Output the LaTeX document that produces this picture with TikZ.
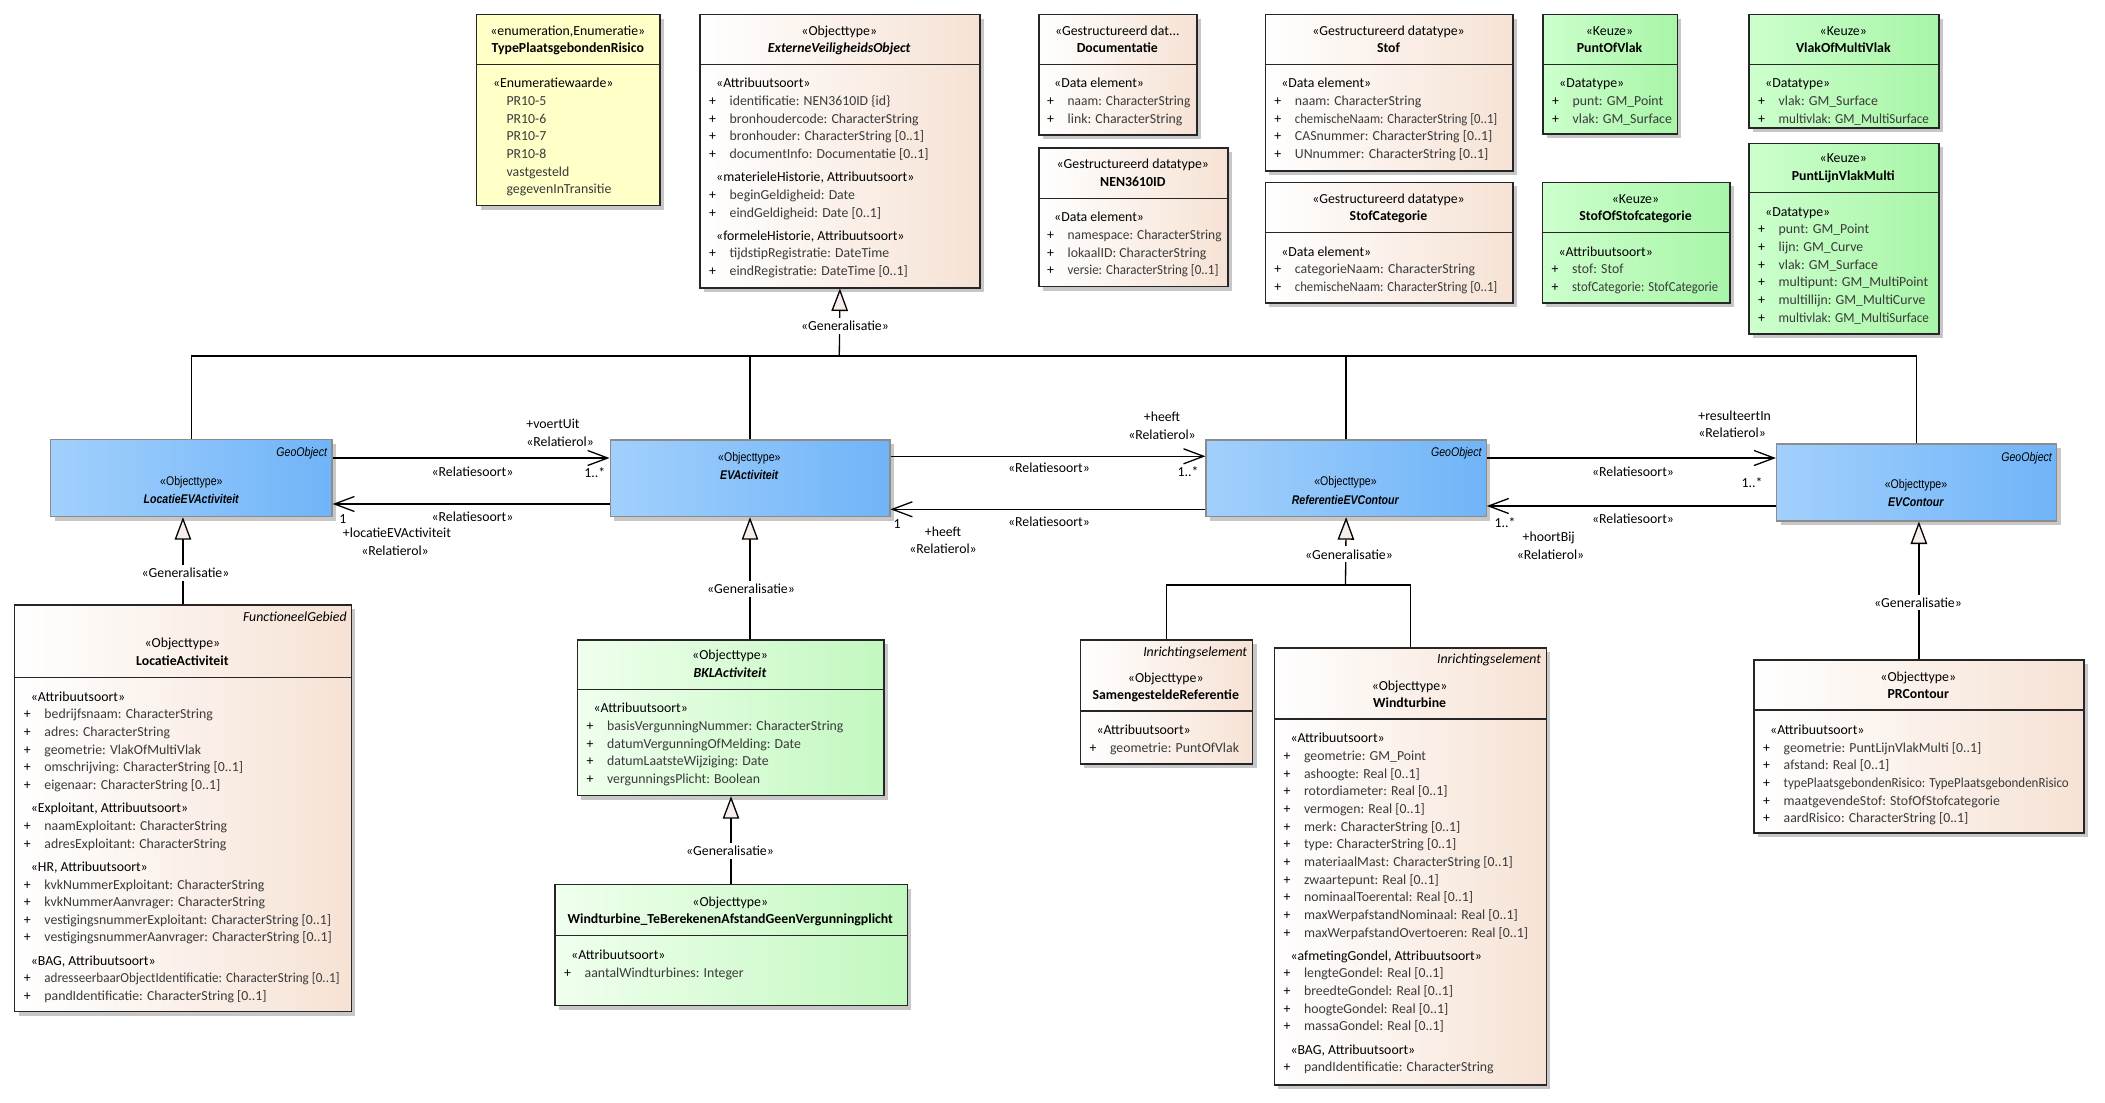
\documentclass[tikz,border=0pt]{standalone}
\usepackage{fontspec}
\setmainfont{Carlito}
\newfontfamily\narrowf[FakeStretch=0.84]{Liberation Sans}
\usetikzlibrary{arrows.meta,shadows,calc}
\definecolor{peachR}{HTML}{F6E2D4}
\definecolor{yel}{HTML}{FFFFC8}
\definecolor{kL}{HTML}{CCFFCC}
\definecolor{kR}{HTML}{A8F5A8}
\definecolor{gL}{HTML}{F0FFEE}
\definecolor{gR}{HTML}{C2F8BF}
\definecolor{bL}{HTML}{A2D0FC}
\definecolor{bR}{HTML}{70B4F8}
\definecolor{genfill}{HTML}{F7EEEB}
\definecolor{atx}{HTML}{3A3A3A}
\newcommand\af{\fontsize{6.9pt}{8.83pt}\selectfont}
\newcommand\bfnt{\narrowf\fontsize{6.3pt}{9.3pt}\selectfont}
\newcommand\gp{2.8pt}
\newcommand\uA[1]{\makebox[10.25pt][l]{+}{\color{atx}#1}}
\newcommand\uQ[2]{\makebox[10.25pt][l]{+}{\color{atx}\scalebox{#1}[1]{#2}}}
\newcommand\uE[1]{\makebox[10.25pt][l]{}{\color{atx}#1}}
\newcommand\uS[1]{\hspace*{3.5pt}#1}
\newcommand\BD[1]{\begin{tabular}[t]{@{}l@{}}#1\end{tabular}}
\newcommand\HD[2]{\begin{tabular}[t]{@{}c@{}}#1\\#2\end{tabular}}
\newcount\tc
\newcommand\T[3]{\global\advance\tc by 1 \node[#1] (n\the\tc) at (#2) {#3};}
\newcommand\ubox[7]{%
  \node[ubase,#7,anchor=north west,minimum width={(#4-#2)*0.5pt},minimum height={(#5-#3)*0.5pt}] (#1) at (#2,#3) {};
  \ifx&#6&\else\draw[divl] (#1.west |- 0,#6) -- (#1.east |- 0,#6);\fi}
\begin{document}
\begin{tikzpicture}[x=0.5pt,y=-0.5pt,
  ubase/.style={draw=black!85,line width=0.6pt,inner sep=0pt,
    drop shadow={shadow xshift=2pt,shadow yshift=-2pt,fill=black!22,opacity=1}},
  divl/.style={draw=black!85,line width=0.6pt},
  peach/.style={left color=white,right color=peachR},
  yellowbox/.style={fill=yel},
  keuze/.style={left color=kL,right color=kR},
  lgreen/.style={left color=gL,right color=gR},
  bluebox/.style={left color=bL,right color=bR,draw=black!45},
  hdr/.style={anchor=base,inner sep=0pt,font=\af},
  attr/.style={anchor=base west,inner sep=0pt,font=\af},
  ital/.style={anchor=base east,inner sep=0pt,font=\af\itshape},
  geo/.style={anchor=base east,inner sep=0pt,font=\bfnt\itshape},
  bhd/.style={anchor=base,inner sep=0pt,font=\bfnt},
  cl/.style={anchor=base,inner sep=0pt,font=\af},
  clw/.style={anchor=base west,inner sep=0pt,font=\af},
  gl/.style={anchor=base,inner sep=1.5pt,fill=white,font=\af},
  ln/.style={line width=0.65pt},
  asc/.style={line width=0.65pt,-{Straight Barb[length=10pt,width=7.5pt]}},
  gen/.style={line width=0.65pt,-{Triangle[length=11.25pt,width=8.25pt,fill=genfill]}}
]
\fill[white] (0,0) rectangle (2105,1103);
\useasboundingbox (0,0) rectangle (2105,1103);

% ---------- boxes ----------
\ubox{enum}{476.2}{14}{659.4}{205}{64.3}{yellowbox}
\ubox{extvo}{699.3}{14}{979.3}{287.3}{64.3}{peach}
\ubox{doc}{1038.3}{14}{1196.3}{134.3}{64.3}{peach}
\ubox{nen}{1038.3}{147.3}{1227.3}{286}{198.7}{peach}
\ubox{stof}{1264.5}{14}{1512.4}{170.3}{64.3}{peach}
\ubox{stofcat}{1264.5}{181.7}{1512.4}{302.3}{232.3}{peach}
\ubox{pov}{1542.3}{14}{1676.7}{133.3}{64.3}{keuze}
\ubox{vomv}{1748.3}{14}{1938.3}{127.3}{64.3}{keuze}
\ubox{sosc}{1541.7}{181.7}{1729.3}{302.3}{232.3}{keuze}
\ubox{plvm}{1748.3}{142.7}{1938.3}{333.3}{192.3}{keuze}
\ubox{locev}{50.2}{439}{331.4}{516}{}{bluebox}
\ubox{evact}{609.5}{439.3}{889.3}{516}{}{bluebox}
\ubox{refev}{1205.4}{439.3}{1485.6}{516}{}{bluebox}
\ubox{evc}{1775.9}{443.3}{2056}{520.3}{}{bluebox}
\ubox{locact}{14}{604.3}{350.7}{1011}{677.3}{peach}
\ubox{bkl}{576.7}{639.3}{883.3}{795}{689.3}{lgreen}
\ubox{wtte}{554.3}{884}{906.5}{1005}{935.3}{lgreen}
\ubox{samen}{1079.6}{639.3}{1252}{763.3}{711}{peach}
\ubox{wt}{1273.6}{647.3}{1545.7}{1084.3}{719}{peach}
\ubox{prc}{1753.3}{659.3}{2083.3}{832.3}{710}{peach}

% ---------- box texts ----------
\T{hdr}{567.8,35.2}{\HD{«enumeration,Enumeratie»}{\textbf{TypePlaatsgebondenRisico}}}
\T{attr}{485.7,87.8}{\BD{\uS{«Enumeratiewaarde»}\\\uE{PR10-5}\\\uE{PR10-6}\\\uE{PR10-7}\\\uE{PR10-8}\\\uE{vastgesteld}\\\uE{gegevenInTransitie}}}

\T{hdr}{839.3,35.2}{\HD{«Objecttype»}{\textbf{\textit{ExterneVeiligheidsObject}}}}
\T{attr}{708.8,87.8}{\BD{\uS{«Attribuutsoort»}\\\uA{identificatie: NEN3610ID \{id\}}\\\uA{bronhoudercode: CharacterString}\\\uA{bronhouder: CharacterString [0..1]}\\\uA{documentInfo: Documentatie [0..1]}\\[\gp]\uS{«materieleHistorie, Attribuutsoort»}\\\uA{beginGeldigheid: Date}\\\uA{eindGeldigheid: Date [0..1]}\\[\gp]\uS{«formeleHistorie, Attribuutsoort»}\\\uA{tijdstipRegistratie: DateTime}\\\uA{eindRegistratie: DateTime [0..1]}}}

\T{hdr}{1117.3,35.2}{\HD{«Gestructureerd dat...}{\textbf{Documentatie}}}
\T{attr}{1046.8,87.8}{\BD{\uS{«Data element»}\\\uQ{0.97}{naam: CharacterString}\\\uA{link: CharacterString}}}

\T{hdr}{1132.8,168.5}{\HD{«Gestructureerd datatype»}{\textbf{NEN3610ID}}}
\T{attr}{1046.8,221.8}{\BD{\uS{«Data element»}\\\uQ{0.97}{namespace: CharacterString}\\\uA{lokaalID: CharacterString}\\\uQ{0.94}{versie: CharacterString [0..1]}}}

\T{hdr}{1388.5,35.2}{\HD{«Gestructureerd datatype»}{\textbf{Stof}}}
\T{attr}{1274,87.8}{\BD{\uS{«Data element»}\\\uA{naam: CharacterString}\\\uQ{0.92}{chemischeNaam: CharacterString [0..1]}\\\uA{CASnummer: CharacterString [0..1]}\\\uA{UNnummer: CharacterString [0..1]}}}

\T{hdr}{1388.5,203.2}{\HD{«Gestructureerd datatype»}{\textbf{StofCategorie}}}
\T{attr}{1274,256.2}{\BD{\uS{«Data element»}\\\uA{categorieNaam: CharacterString}\\\uQ{0.92}{chemischeNaam: CharacterString [0..1]}}}

\T{hdr}{1609.5,35.2}{\HD{«Keuze»}{\textbf{PuntOfVlak}}}
\T{attr}{1551.8,87.8}{\BD{\uS{«Datatype»}\\\uA{punt: GM\_Point}\\\uA{vlak: GM\_Surface}}}

\T{hdr}{1843.3,35.2}{\HD{«Keuze»}{\textbf{VlakOfMultiVlak}}}
\T{attr}{1757.8,87.8}{\BD{\uS{«Datatype»}\\\uA{vlak: GM\_Surface}\\\uQ{0.95}{multivlak: GM\_MultiSurface}}}

\T{hdr}{1635.5,203.2}{\HD{«Keuze»}{\textbf{StofOfStofcategorie}}}
\T{attr}{1551.2,256.2}{\BD{\uS{«Attribuutsoort»}\\\uA{stof: Stof}\\\uQ{0.92}{stofCategorie: StofCategorie}}}

\T{hdr}{1843.3,162.8}{\HD{«Keuze»}{\textbf{PuntLijnVlakMulti}}}
\T{attr}{1757.8,216.2}{\BD{\uS{«Datatype»}\\\uA{punt: GM\_Point}\\\uA{lijn: GM\_Curve}\\\uA{vlak: GM\_Surface}\\\uA{multipunt: GM\_MultiPoint}\\\uA{multillijn: GM\_MultiCurve}\\\uQ{0.95}{multivlak: GM\_MultiSurface}}}

\T{geo}{327.4,456.7}{GeoObject}
\T{bhd}{191.4,485}{\HD{«Objecttype»}{\textbf{\textit{LocatieEVActiviteit}}}}
\T{bhd}{749.4,461.3}{\HD{«Objecttype»}{\textbf{\textit{EVActiviteit}}}}
\T{geo}{1482,456.7}{GeoObject}
\T{bhd}{1345.5,485.7}{\HD{«Objecttype»}{\textbf{\textit{ReferentieEVContour}}}}
\T{geo}{2052.3,461.3}{GeoObject}
\T{bhd}{1916,488.3}{\HD{«Objecttype»}{\textbf{\textit{EVContour}}}}

\T{ital}{347,621.8}{FunctioneelGebied}
\T{hdr}{182.4,647.8}{\HD{«Objecttype»}{\textbf{LocatieActiviteit}}}
\T{attr}{23.5,701.2}{\BD{\uS{«Attribuutsoort»}\\\uA{bedrijfsnaam: CharacterString}\\\uA{adres: CharacterString}\\\uA{geometrie: VlakOfMultiVlak}\\\uA{omschrijving: CharacterString [0..1]}\\\uA{eigenaar: CharacterString [0..1]}\\[\gp]\uS{«Exploitant, Attribuutsoort»}\\\uA{naamExploitant: CharacterString}\\\uA{adresExploitant: CharacterString}\\[\gp]\uS{«HR, Attribuutsoort»}\\\uA{kvkNummerExploitant: CharacterString}\\\uA{kvkNummerAanvrager: CharacterString}\\\uA{vestigingsnummerExploitant: CharacterString [0..1]}\\\uA{vestigingsnummerAanvrager: CharacterString [0..1]}\\[\gp]\uS{«BAG, Attribuutsoort»}\\\uQ{0.95}{adresseerbaarObjectIdentificatie: CharacterString [0..1]}\\\uA{pandIdentificatie: CharacterString [0..1]}}}

\T{hdr}{730,659.5}{\HD{«Objecttype»}{\textbf{\textit{BKLActiviteit}}}}
\T{attr}{586.2,712.8}{\BD{\uS{«Attribuutsoort»}\\\uA{basisVergunningNummer: CharacterString}\\\uA{datumVergunningOfMelding: Date}\\\uA{datumLaatsteWijziging: Date}\\\uA{vergunningsPlicht: Boolean}}}

\T{hdr}{730.3,906.2}{\HD{«Objecttype»}{\textbf{Windturbine\_TeBerekenenAfstandGeenVergunningplicht}}}
\T{attr}{563.8,959.5}{\BD{\uS{«Attribuutsoort»}\\\uA{aantalWindturbines: Integer}}}

\T{ital}{1247.5,656.2}{Inrichtingselement}
\T{hdr}{1165.8,682.2}{\HD{«Objecttype»}{\textbf{SamengesteldeReferentie}}}
\T{attr}{1089.1,734.5}{\BD{\uS{«Attribuutsoort»}\\\uA{geometrie: PuntOfVlak}}}

\T{ital}{1541.4,663.8}{Inrichtingselement}
\T{hdr}{1409.6,690.2}{\HD{«Objecttype»}{\textbf{Windturbine}}}
\T{attr}{1283.1,742.8}{\BD{\uS{«Attribuutsoort»}\\\uA{geometrie: GM\_Point}\\\uA{ashoogte: Real [0..1]}\\\uA{rotordiameter: Real [0..1]}\\\uA{vermogen: Real [0..1]}\\\uA{merk: CharacterString [0..1]}\\\uA{type: CharacterString [0..1]}\\\uA{materiaalMast: CharacterString [0..1]}\\\uA{zwaartepunt: Real [0..1]}\\\uA{nominaalToerental: Real [0..1]}\\\uA{maxWerpafstandNominaal: Real [0..1]}\\\uA{maxWerpafstandOvertoeren: Real [0..1]}\\[\gp]\uS{«afmetingGondel, Attribuutsoort»}\\\uA{lengteGondel: Real [0..1]}\\\uA{breedteGondel: Real [0..1]}\\\uA{hoogteGondel: Real [0..1]}\\\uA{massaGondel: Real [0..1]}\\[\gp]\uS{«BAG, Attribuutsoort»}\\\uA{pandIdentificatie: CharacterString}}}

\T{hdr}{1918.3,681.2}{\HD{«Objecttype»}{\textbf{PRContour}}}
\T{attr}{1762.8,734.5}{\BD{\uS{«Attribuutsoort»}\\\uA{geometrie: PuntLijnVlakMulti [0..1]}\\\uA{afstand: Real [0..1]}\\\uQ{0.94}{typePlaatsgebondenRisico: TypePlaatsgebondenRisico}\\\uA{maatgevendeStof: StofOfStofcategorie}\\\uA{aardRisico: CharacterString [0..1]}}}

% ---------- generalisation connectors ----------
\coordinate (bus) at (839.3,356);
\coordinate (jref) at (1345.5,585);
\draw[ln] (locev.north) |- (bus);
\draw[ln] (evact.north) |- (bus);
\draw[ln] (refev.north) |- (bus);
\draw[ln] (evc.north) |- (bus);
\draw[gen] (bus) -- (extvo.south);
\draw[gen] (locact.north) -- (locact.north |- locev.south);
\draw[gen] (evact.south |- bkl.north) -- (evact.south);
\draw[gen] (wtte.north) -- (wtte.north |- bkl.south);
\draw[ln] (samen.north) |- (jref);
\draw[ln] (wt.north) |- (jref);
\draw[gen] (jref) -- (refev.south);
\draw[gen] (prc.north) -- (prc.north |- evc.south);

\T{gl}{845,330.5}{«Generalisatie»}
\T{gl}{185.5,577.5}{«Generalisatie»}
\T{gl}{751,593.5}{«Generalisatie»}
\T{gl}{730,855.5}{«Generalisatie»}
\T{gl}{1349,559}{«Generalisatie»}
\T{gl}{1918,607.2}{«Generalisatie»}

% ---------- associations ----------
\draw[asc] (locev.east |- 0,458) -- (evact.west |- 0,458);
\draw[asc] (evact.west |- 0,504) -- (locev.east |- 0,504);
\draw[asc] (evact.east |- 0,456.3) -- (refev.west |- 0,456.3);
\draw[asc] (refev.west |- 0,509.3) -- (evact.east |- 0,509.3);
\draw[asc] (refev.east |- 0,458) -- (evc.west |- 0,458);
\draw[asc] (evc.west |- 0,506) -- (refev.east |- 0,506);

\T{clw}{526,428.5}{+voertUit}
\T{clw}{526,446.2}{«Relatierol»}
\T{clw}{584,477.8}{1..*}
\T{cl}{472.5,476.8}{«Relatiesoort»}
\T{cl}{472.5,521.2}{«Relatiesoort»}
\T{clw}{339,523.5}{1}
\T{cl}{397,537.2}{+locatieEVActiviteit}
\T{cl}{395,555.2}{«Relatierol»}

\T{cl}{1162,421.2}{+heeft}
\T{cl}{1162,439.2}{«Relatierol»}
\T{cl}{1188,476.8}{1..*}
\T{cl}{1049,472.8}{«Relatiesoort»}
\T{cl}{1049,526.2}{«Relatiesoort»}
\T{cl}{897,528.8}{1}
\T{cl}{943,536.2}{+heeft}
\T{cl}{943,553.5}{«Relatierol»}

\T{clw}{1698,420.5}{+resulteertIn}
\T{clw}{1698,437.5}{«Relatierol»}
\T{cl}{1752,487.8}{1..*}
\T{cl}{1633,476.5}{«Relatiesoort»}
\T{cl}{1633,523.5}{«Relatiesoort»}
\T{cl}{1505,527.2}{1..*}
\T{cl}{1548.7,541.8}{+hoortBij}
\T{cl}{1550.5,559.5}{«Relatierol»}
\end{tikzpicture}
\end{document}
